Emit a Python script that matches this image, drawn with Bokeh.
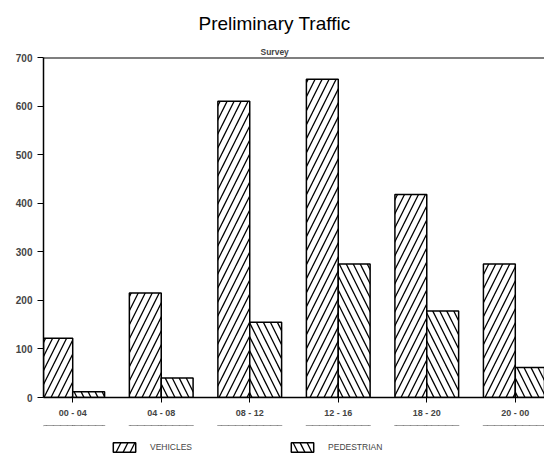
from bokeh.plotting import figure
from bokeh.layouts import column
from bokeh.models import (ColumnDataSource, FactorRange, Range1d, Title, Span, Legend,
                          LegendItem, BoxAnnotation)
from bokeh.transform import dodge
from bokeh.embed import file_html
from bokeh.resources import INLINE

periods = ["00 - 04", "04 - 08", "08 - 12", "12 - 16", "18 - 20", "20 - 00"]
vehicles = [122, 215, 610, 655, 418, 275]
pedestrian = [12, 40, 155, 275, 178, 62]
y_ticks = [0, 100, 200, 300, 400, 500, 600, 700]

src = ColumnDataSource(dict(period=periods, vehicles=vehicles, pedestrian=pedestrian))

FONT = "Liberation Sans"
VEH = dict(fill_color="white", line_color="black", line_width=1.5,
           hatch_pattern="/", hatch_color="black", hatch_scale=14, hatch_weight=1.3)
PED = dict(fill_color="white", line_color="black", line_width=1.5,
           hatch_pattern="\\", hatch_color="black", hatch_scale=14, hatch_weight=1.3)

x_range = FactorRange(factors=periods, range_padding=-0.17, range_padding_units="absolute")
p = figure(width=544, height=425, x_range=x_range, y_range=Range1d(0, 700),
           output_backend="svg", toolbar_location=None,
           min_border_left=43, min_border_right=0, min_border_top=57, min_border_bottom=28)
p.outline_line_color = None
p.grid.grid_line_color = None

p.vbar(x=dodge("period", -0.18, range=x_range), top="vehicles", width=0.36, source=src, **VEH)
p.vbar(x=dodge("period", 0.18, range=x_range), top="pedestrian", width=0.36, source=src, **PED)

p.add_layout(Span(location=700, dimension="width", line_color="black", line_width=2))

p.yaxis.ticker = y_ticks
p.yaxis.major_tick_out = 6
p.yaxis.major_tick_in = 0
p.yaxis.minor_tick_line_color = None
p.yaxis.axis_line_width = 1.5
p.yaxis.major_label_text_font = FONT
p.yaxis.major_label_text_font_style = "bold"
p.yaxis.major_label_text_font_size = "10px"
p.yaxis.major_label_standoff = 5

p.xaxis.major_tick_out = 5
p.xaxis.major_tick_in = 6
p.xaxis.axis_line_width = 1.5
p.xaxis.major_label_text_font = FONT
p.xaxis.major_label_text_font_style = "bold"
p.xaxis.major_label_text_font_size = "9px"
p.xaxis.major_label_standoff = 5

p.add_layout(Title(text="Survey", text_font=FONT, text_font_size="8.5px", text_font_style="bold",
                   align="left", offset=217, standoff=2), "above")
p.add_layout(Title(text="Preliminary Traffic", text_font=FONT, text_font_size="19px",
                   text_font_style="normal", text_color="black", align="left", offset=155,
                   standoff=20), "above")

# legend strip below the chart: its bars lie outside the view and are covered by a white box
lg = figure(width=544, height=28, x_range=x_range, y_range=Range1d(-100000, -99999),
            output_backend="svg", toolbar_location=None,
            x_axis_location=None, y_axis_location=None,
            min_border_left=0, min_border_right=0, min_border_top=0, min_border_bottom=0)
lg.outline_line_color = None
lg.grid.grid_line_color = None
l1 = lg.vbar(x=dodge("period", -0.18, range=x_range), top="vehicles", width=0.36, source=src, **VEH)
l2 = lg.vbar(x=dodge("period", 0.18, range=x_range), top="pedestrian", width=0.36, source=src, **PED)
lg.add_layout(BoxAnnotation(fill_color="white", fill_alpha=1.0, line_alpha=0))
legend = Legend(items=[LegendItem(label="VEHICLES", renderers=[l1]),
                       LegendItem(label="PEDESTRIAN", renderers=[l2])],
                orientation="horizontal", location=(67, 0),
                border_line_color=None, background_fill_alpha=0,
                label_text_font=FONT, label_text_font_size="8.5px",
                glyph_width=28, glyph_height=12, label_standoff=12, spacing=96,
                label_width=40, padding=1, margin=0)
lg.add_layout(legend)

layout = column(p, lg, spacing=0)
open("out.html", "w").write(file_html(layout, INLINE))
